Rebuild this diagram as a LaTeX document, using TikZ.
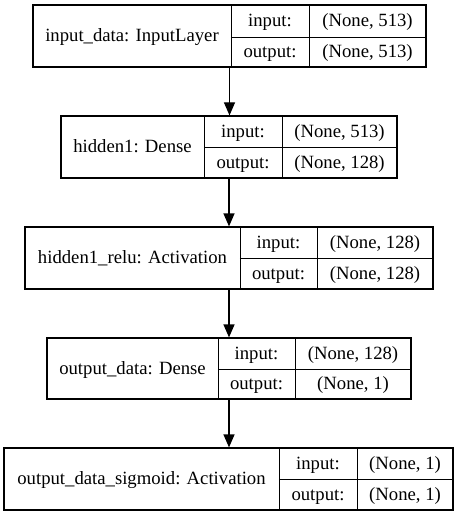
\documentclass[tikz,border=0pt]{standalone}
\usepackage{fontspec}
\setmainfont{Liberation Serif}
\newfontfamily\layerfont{Liberation Serif}
\usetikzlibrary{arrows.meta}
\tikzset{
  box/.style={draw=black, line width=1.2pt, inner sep=0pt, fill=white},
  txt/.style={inner sep=0pt, text height=15.5pt, text depth=4.5pt, font=\layerfont\fontsize{18.7}{22}\selectfont},
  grid/.style={draw=black, line width=1.2pt},
  arr/.style={draw=black, line width=1.2pt, -{Triangle[length=13pt,width=11pt]}}
}
\begin{document}
\begin{tikzpicture}[x=1pt,y=-1pt]
\useasboundingbox (0,0) rectangle (459,516);
% Layer 1: x 33,231,309,426 ; y 5,37,67
\node[box, minimum width=393pt, minimum height=62pt] (L1) at (229.5,36) {};
\node[txt, minimum width=198pt, minimum height=62pt] (N1) at (132,36) {input\_data: InputLayer};
\node[txt, minimum width=78pt, minimum height=32pt] (I1) at (270,21) {input:};
\node[txt, minimum width=78pt, minimum height=30pt] (O1) at (270,52) {output:};
\node[txt] (IS1) at (367.5,21) {(None, 513)};
\node[txt] (OS1) at (367.5,52) {(None, 513)};
\draw[grid] (N1.north east) -- (N1.south east);
\draw[grid] (I1.north east) -- (O1.south east);
\draw[grid] (I1.south west) -- (L1.east |- I1.south);
% Layer 2: x 61,204,282,397 ; y 116,147,178
\node[box, minimum width=336pt, minimum height=62pt] (L2) at (229,147) {};
\node[txt, minimum width=143pt, minimum height=62pt] (N2) at (132.5,147) {hidden1: Dense};
\node[txt, minimum width=78pt, minimum height=31pt] (I2) at (243,131.5) {input:};
\node[txt, minimum width=78pt, minimum height=31pt] (O2) at (243,162.5) {output:};
\node[txt] (IS2) at (339.5,131.5) {(None, 513)};
\node[txt] (OS2) at (339.5,162.5) {(None, 128)};
\draw[grid] (N2.north east) -- (N2.south east);
\draw[grid] (I2.north east) -- (O2.south east);
\draw[grid] (I2.south west) -- (L2.east |- I2.south);
% Layer 3: x 25,240,317,433 ; y 227,258,289
\node[box, minimum width=408pt, minimum height=62pt] (L3) at (229,258) {};
\node[txt, minimum width=215pt, minimum height=62pt] (N3) at (132.5,258) {hidden1\_relu: Activation};
\node[txt, minimum width=77pt, minimum height=31pt] (I3) at (278.5,242.5) {input:};
\node[txt, minimum width=77pt, minimum height=31pt] (O3) at (278.5,273.5) {output:};
\node[txt] (IS3) at (375,242.5) {(None, 128)};
\node[txt] (OS3) at (375,273.5) {(None, 128)};
\draw[grid] (N3.north east) -- (N3.south east);
\draw[grid] (I3.north east) -- (O3.south east);
\draw[grid] (I3.south west) -- (L3.east |- I3.south);
% Layer 4: x 47,218,295,411 ; y 338,369,399
\node[box, minimum width=364pt, minimum height=61pt] (L4) at (229,368.5) {};
\node[txt, minimum width=171pt, minimum height=61pt] (N4) at (132.5,368.5) {output\_data: Dense};
\node[txt, minimum width=77pt, minimum height=31pt] (I4) at (256.5,353.5) {input:};
\node[txt, minimum width=77pt, minimum height=30pt] (O4) at (256.5,384) {output:};
\node[txt] (IS4) at (353,353.5) {(None, 128)};
\node[txt] (OS4) at (353,384) {(None, 1)};
\draw[grid] (N4.north east) -- (N4.south east);
\draw[grid] (I4.north east) -- (O4.south east);
\draw[grid] (I4.south west) -- (L4.east |- I4.south);
% Layer 5: x 4,279,357,453 ; y 448,479,510
\node[box, minimum width=449pt, minimum height=62pt] (L5) at (228.5,479) {};
\node[txt, minimum width=275pt, minimum height=62pt] (N5) at (141.5,479) {output\_data\_sigmoid: Activation};
\node[txt, minimum width=78pt, minimum height=31pt] (I5) at (318,463.5) {input:};
\node[txt, minimum width=78pt, minimum height=31pt] (O5) at (318,494.5) {output:};
\node[txt] (IS5) at (405,463.5) {(None, 1)};
\node[txt] (OS5) at (405,494.5) {(None, 1)};
\draw[grid] (N5.north east) -- (N5.south east);
\draw[grid] (I5.north east) -- (O5.south east);
\draw[grid] (I5.south west) -- (L5.east |- I5.south);
% arrows
\draw[arr] (L1.south) -- (L1.south |- L2.north);
\draw[arr] (L2.south) -- (L2.south |- L3.north);
\draw[arr] (L3.south) -- (L3.south |- L4.north);
\draw[arr] (L4.south) -- (L4.south |- L5.north);
\end{tikzpicture}
\end{document}
